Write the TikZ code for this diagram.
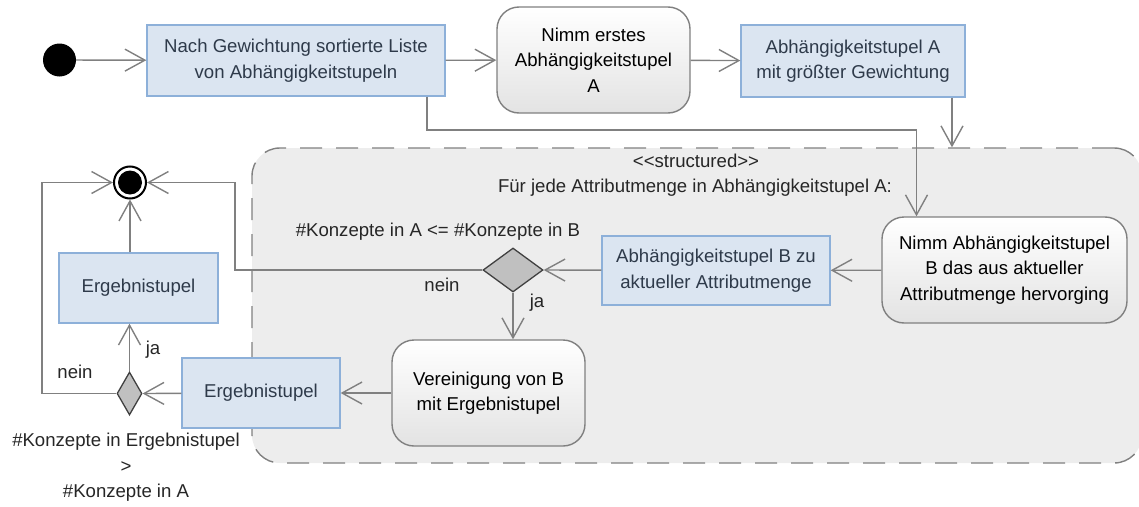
\documentclass[tikz,border=0pt]{standalone}
\usepackage{fontspec}
\setmainfont{Liberation Sans}
\usetikzlibrary{arrows.meta,shapes.geometric}
\definecolor{boxfill}{HTML}{DBE5F1}
\definecolor{boxline}{HTML}{8DB0D9}
\definecolor{boxtext}{HTML}{2E3A4A}
\definecolor{flowline}{HTML}{808080}
\definecolor{regfill}{HTML}{EDEDED}
\definecolor{decfill}{HTML}{C0C0C0}
\begin{document}
\begin{tikzpicture}[x=1pt,y=-1pt,
  font=\fontsize{18.6pt}{25.5pt}\selectfont,
  objbox/.style={draw=boxline, line width=1.3pt, fill=boxfill, text=boxtext,
    inner sep=0pt, align=center},
  actbox/.style={draw=flowline, line width=1.4pt, rounded corners=22pt,
    top color=white, bottom color=black!11, text=black, inner sep=0pt, align=center},
  decbox/.style={diamond, draw=black!75, line width=1.3pt, fill=decfill, inner sep=0pt},
  flow/.style={draw=flowline, line width=1.4pt,
    -{Straight Barb[length=20pt,width=22pt,line width=1.4pt]}},
  plain/.style={draw=flowline, line width=1.4pt},
  lbl/.style={text=black!85, inner sep=0pt, align=center}]
\useasboundingbox (0,0) rectangle (1139,506);

% structured region (continues past the right edge)
\node[draw=flowline, line width=1.4pt, dash pattern=on 22pt off 14pt, fill=regfill,
  rounded corners=28pt, minimum width=890pt, minimum height=315pt, inner sep=0pt]
  (reg) at (697,305.5) {};
\node[lbl] (st) at (696,161) {<{}<structured>{}>};
\node[lbl] (fj) at (695,188) {Für jede Attributmenge in Abhängigkeitstupel A:};

% top row
\node[circle, fill=black, minimum size=33pt, inner sep=0pt] (init) at (59.5,60) {};
\node[objbox, minimum width=298pt, minimum height=71pt] (list) at (296,60.5)
  {Nach Gewichtung sortierte Liste\\von Abhängigkeitstupeln};
\node[actbox, minimum width=193pt, minimum height=106pt] (first) at (593.5,60)
  {Nimm erstes\\Abhängigkeitstupel\\A};
\node[objbox, minimum width=224pt, minimum height=72pt] (boxA) at (853,61)
  {Abhängigkeitstupel A\\mit größter Gewichtung};

% inside the region
\node[actbox, minimum width=245pt, minimum height=106pt] (nimmB) at (1004.5,270)
  {Nimm Abhängigkeitstupel\\B das aus aktueller\\Attributmenge hervorging};
\node[objbox, minimum width=228pt, minimum height=69pt] (boxB) at (716,270.5)
  {Abhängigkeitstupel B zu\\aktueller Attributmenge};
\node[decbox, minimum width=60pt, minimum height=44pt] (dec1) at (513,270) {};
\node[actbox, minimum width=193pt, minimum height=106pt] (verein) at (488.5,393)
  {Vereinigung von B\\mit Ergebnistupel};

% left column
\node[objbox, minimum width=158pt, minimum height=70pt] (erg2) at (261,393) {Ergebnistupel};
\node[decbox, minimum width=25pt, minimum height=43pt] (dec2) at (129.5,393.5) {};
\node[objbox, minimum width=159pt, minimum height=70pt] (erg1) at (138.5,288) {Ergebnistupel};
\node[circle, draw=black, line width=2pt, fill=white, minimum size=32pt, inner sep=0pt]
  (final) at (130,182.5) {};
\node[circle, fill=black, minimum size=24pt, inner sep=0pt] (finalin) at (130,182.5) {};

% guards and labels
\node[lbl] (g1) at (438,232) {\#Konzepte in A <= \#Konzepte in B};
\node[lbl] (n1) at (442,285) {nein};
\node[lbl] (j1) at (537,303) {ja};
\node[lbl] (j2) at (153,350) {ja};
\node[lbl] (n2) at (75,372) {nein};
\node[lbl] (g2) at (126,467.5) {\#Konzepte in Ergebnistupel\\>\\\#Konzepte in A};

% routing points
\coordinate (cA) at (952,0);
\coordinate (c1) at (427,130);
\coordinate (c2) at (916.5,130);
\coordinate (cN) at (235,182.5);
\coordinate (cL) at (42,182.5);

% connectors
\draw[flow] (init) -- (list);
\draw[flow] (list) -- (first);
\draw[flow] (first) -- (boxA);
\draw[flow] (boxA.south -| cA) -- (reg.north -| cA);
\draw[flow] (list.south -| c1) -- (c1) -- (c2) -- (nimmB.north -| c2);
\draw[flow] (nimmB) -- (boxB);
\draw[flow] (boxB) -- (dec1.east);
\draw[flow] (dec1.south) -- (dec1.south |- verein.north);
\draw[flow] (dec1.west) -| (cN) -- (final.east);
\draw[flow] (verein) -- (erg2);
\draw[flow] (erg2) -- (dec2.east);
\draw[flow] (dec2.north) -- (dec2.north |- erg1.south);
\draw[flow] (final.south |- erg1.north) -- (final.south);
\draw[flow] (dec2.west) -| (cL) -- (final.west);
\end{tikzpicture}
\end{document}
